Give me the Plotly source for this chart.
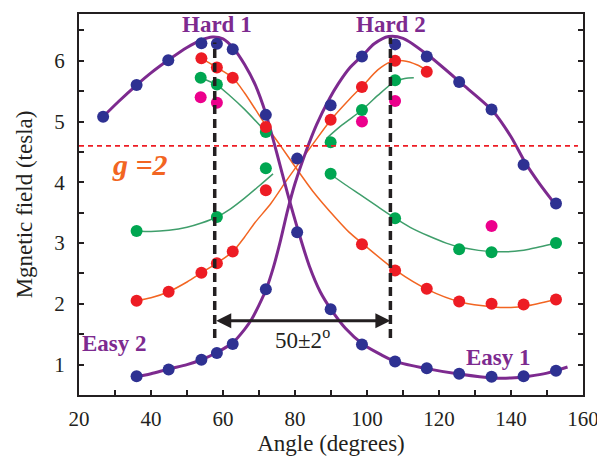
import plotly.graph_objects as go

# ---------------- measured points (angle in degrees, field in tesla) ----------------
blue_a_x = [26.7, 36.0, 44.8, 54.0, 58.3, 62.7, 71.9, 80.6, 89.9, 98.6, 107.8, 116.6, 125.6, 134.6, 143.5, 152.5]
blue_a_y = [5.08, 5.60, 6.01, 6.29, 6.28, 6.19, 5.11, 3.18, 1.91, 1.33, 1.05, 0.94, 0.85, 0.80, 0.81, 0.90]
blue_b_x = [36.0, 44.9, 54.0, 58.3, 62.7, 71.9, 80.6, 89.9, 98.6, 107.8, 116.6, 125.6, 134.6, 143.5, 152.5]
blue_b_y = [0.81, 0.92, 1.08, 1.19, 1.34, 2.24, 4.39, 5.27, 6.07, 6.27, 6.07, 5.65, 5.20, 4.29, 3.65]

red_a_x = [54.0, 58.3, 62.7, 71.9, 98.6, 107.8, 116.6, 125.6, 134.6, 143.5, 152.5]
red_a_y = [6.04, 5.89, 5.72, 4.91, 2.98, 2.55, 2.25, 2.04, 2.00, 1.99, 2.07]
red_b_x = [36.0, 44.9, 54.0, 58.3, 62.7, 71.9, 89.9, 98.6, 107.8, 116.6]
red_b_y = [2.05, 2.20, 2.51, 2.67, 2.86, 3.87, 5.03, 5.57, 6.00, 5.82]

green_a_x = [53.8, 58.3, 71.9, 89.9, 107.8, 125.6, 134.6, 152.5]
green_a_y = [5.72, 5.61, 4.83, 4.14, 3.41, 2.90, 2.85, 3.00]
green_b_x = [36.0, 58.3, 71.9, 89.9, 98.6, 107.8]
green_b_y = [3.20, 3.43, 4.23, 4.66, 5.19, 5.68]

magenta_x = [53.8, 58.3, 98.6, 107.8, 134.6]
magenta_y = [5.40, 5.31, 5.00, 5.34, 3.28]

# ---------------- fitted curves ----------------
fit_purple_a_x = [26.7, 31, 36, 40, 45, 50, 54, 57, 60, 63, 66, 69, 72, 75, 78, 81, 84, 87, 90, 94, 99, 104, 108, 117, 126, 135, 140, 145, 150, 155.7]
fit_purple_a_y = [5.08, 5.33, 5.60, 5.80, 6.02, 6.22, 6.34, 6.39, 6.36, 6.20, 5.94, 5.60, 5.11, 4.47, 3.80, 3.18, 2.62, 2.20, 1.91, 1.60, 1.33, 1.16, 1.05, 0.93, 0.84, 0.78, 0.78, 0.81, 0.86, 0.96]
fit_purple_b_x = [35, 40, 45, 50, 54, 58.3, 62.7, 66, 68, 70, 72, 74, 76, 78, 80, 83, 86, 89.6, 92, 95, 99, 102, 106, 110, 117, 126, 135, 140, 144, 148, 152.5]
fit_purple_b_y = [0.79, 0.85, 0.93, 1.00, 1.08, 1.20, 1.36, 1.58, 1.75, 1.98, 2.24, 2.60, 3.05, 3.55, 3.98, 4.50, 4.95, 5.38, 5.62, 5.87, 6.10, 6.28, 6.40, 6.37, 6.09, 5.64, 5.17, 4.75, 4.32, 3.97, 3.62]

fit_orange_a_x = [54.0, 58.3, 62.7, 66, 69, 72, 76, 80, 85, 91.5, 95, 99, 108, 117, 126, 135, 140, 144, 152.5]
fit_orange_a_y = [6.04, 5.89, 5.72, 5.47, 5.20, 4.93, 4.60, 4.26, 3.85, 3.40, 3.18, 2.98, 2.55, 2.23, 2.03, 1.95, 1.94, 1.96, 2.07]
fit_orange_b_x = [36.0, 40, 44.9, 50, 54.0, 58.3, 62.7, 66, 68.8, 73.4, 78, 84.6, 90, 95, 99, 103, 106.5, 110, 114, 116.6]
fit_orange_b_y = [2.05, 2.10, 2.20, 2.36, 2.51, 2.67, 2.86, 3.10, 3.33, 3.66, 4.06, 4.60, 5.03, 5.36, 5.60, 5.85, 5.98, 6.00, 5.93, 5.84]

fit_green_a1_x = [53.8, 58.3, 62, 66, 71.9]
fit_green_a1_y = [5.72, 5.60, 5.42, 5.20, 4.83]
fit_green_a2_x = [89.0, 94, 98, 103, 107.8, 112, 117, 122, 126, 131, 135, 140, 145, 152.5]
fit_green_a2_y = [4.17, 3.96, 3.80, 3.60, 3.41, 3.26, 3.12, 3.00, 2.93, 2.88, 2.86, 2.86, 2.90, 3.00]
fit_green_b1_x = [36.0, 40, 45, 50, 54, 58.3, 62, 66, 70, 73.9]
fit_green_b1_y = [3.20, 3.19, 3.21, 3.26, 3.33, 3.43, 3.56, 3.74, 3.94, 4.14]
fit_green_b2_x = [88.7, 93, 98.6, 103, 107.8, 110.5, 113]
fit_green_b2_y = [4.72, 4.94, 5.19, 5.43, 5.66, 5.71, 5.72]

# ---------------- annotations ----------------
g2_field = 4.6
hard1_angle, hard2_angle = 57.7, 106.5
x_ticks = [20, 40, 60, 80, 100, 120, 140, 160]
y_ticks = [1, 2, 3, 4, 5, 6]

PURPLE = "#7D2A8F"
ORANGE = "#F26522"
GREEN_LINE = "#3F9E6B"
NAVY = "#2E3192"
RED = "#ED1C24"
GREEN = "#00A651"
MAGENTA = "#EC008C"
BLACK = "#231F20"
FONT = "Liberation Serif, Times New Roman, serif"

fig = go.Figure()


def add_curve(x, y, color, width):
    fig.add_trace(go.Scatter(x=x, y=y, mode="lines", hoverinfo="skip", showlegend=False,
                             line=dict(color=color, width=width, shape="spline", smoothing=0.8)))


def add_points(x, y, color):
    fig.add_trace(go.Scatter(x=x, y=y, mode="markers", showlegend=False,
                             marker=dict(color=color, size=12, line=dict(width=0))))


for cx, cy in [(fit_green_a1_x, fit_green_a1_y), (fit_green_a2_x, fit_green_a2_y),
               (fit_green_b1_x, fit_green_b1_y), (fit_green_b2_x, fit_green_b2_y)]:
    add_curve(cx, cy, GREEN_LINE, 1.5)
add_curve(fit_orange_a_x, fit_orange_a_y, ORANGE, 1.5)
add_curve(fit_orange_b_x, fit_orange_b_y, ORANGE, 1.5)
add_curve(fit_purple_a_x, fit_purple_a_y, PURPLE, 3)
add_curve(fit_purple_b_x, fit_purple_b_y, PURPLE, 3)

add_points(magenta_x, magenta_y, MAGENTA)
add_points(green_a_x, green_a_y, GREEN)
add_points(green_b_x, green_b_y, GREEN)
add_points(red_a_x, red_a_y, RED)
add_points(red_b_x, red_b_y, RED)
add_points(blue_a_x, blue_a_y, NAVY)
add_points(blue_b_x, blue_b_y, NAVY)

# g = 2 reference line
fig.add_shape(type="line", xref="paper", yref="y", x0=0, x1=0.99, y0=g2_field, y1=g2_field,
              line=dict(color=RED, width=1.6, dash="5px,4px"))
# hard-axis dashed verticals
fig.add_shape(type="line", x0=hard1_angle, x1=hard1_angle, y0=1.44, y1=6.30,
              line=dict(color=BLACK, width=3.5, dash="9px,5px"))
fig.add_shape(type="line", x0=hard2_angle, x1=hard2_angle, y0=1.44, y1=6.38,
              line=dict(color=BLACK, width=3.5, dash="9px,5px"))

# double arrow
fig.add_annotation(x=hard2_angle, y=1.72, ax=hard1_angle, ay=1.72, xref="x", yref="y",
                   axref="x", ayref="y", text="", showarrow=True, arrowhead=2,
                   arrowside="end+start", arrowwidth=3, arrowsize=1, arrowcolor=BLACK,
                   standoff=0, startstandoff=0)
fig.add_annotation(x=82.0, y=1.43, xref="x", yref="y", text="50±2<sup>o</sup>", showarrow=False,
                   font=dict(family=FONT, size=23, color=BLACK))

label_font = dict(family=FONT, size=23, color=PURPLE)
fig.add_annotation(x=58.2, y=6.59, text="<b>Hard 1</b>", showarrow=False, font=label_font)
fig.add_annotation(x=106.7, y=6.59, text="<b>Hard 2</b>", showarrow=False, font=label_font)
fig.add_annotation(x=29.8, y=1.35, text="<b>Easy 2</b>", showarrow=False, font=label_font)
fig.add_annotation(x=136.4, y=1.12, text="<b>Easy 1</b>", showarrow=False, font=label_font)
fig.add_annotation(x=37.0, y=4.29, text="<b><i>g</i> <i>=2</i></b>", showarrow=False,
                   font=dict(family=FONT, size=30, color=ORANGE))

axis_common = dict(showline=True, linecolor=BLACK, linewidth=2, ticks="inside",
                   ticklen=5, tickwidth=1.5, tickcolor=BLACK, showgrid=False, zeroline=False,
                   automargin=False,
                   tickfont=dict(family=FONT, size=21, color=BLACK))

fig.update_xaxes(range=[20, 160], tickvals=x_ticks, ticktext=[str(v) for v in x_ticks],
                 mirror=True, ticklabelstandoff=4,
                 minor=dict(ticks="inside", dtick=10, ticklen=5, tickwidth=1.5, tickcolor=BLACK),
                 title=dict(text="Angle (degrees)", font=dict(family=FONT, size=23, color=BLACK),
                            standoff=4),
                 **axis_common)
fig.update_yaxes(range=[0.5, 6.77], tickvals=y_ticks, ticktext=[str(v) for v in y_ticks],
                 mirror="ticks", ticklabelstandoff=8,
                 minor=dict(ticks="inside", dtick=0.5, ticklen=5, tickwidth=1.5, tickcolor=BLACK),
                 title=dict(text="Mgnetic field (tesla)", font=dict(family=FONT, size=23, color=BLACK),
                            standoff=15),
                 **axis_common)

# the page body adds an 8 px offset, so the margins are shifted to place the plot box
# at the same screen position as in the reference
fig.update_layout(width=605, height=459, margin=dict(l=71, r=30, t=6, b=72),
                  paper_bgcolor="white", plot_bgcolor="white", showlegend=False)

fig.write_html("out.html")
